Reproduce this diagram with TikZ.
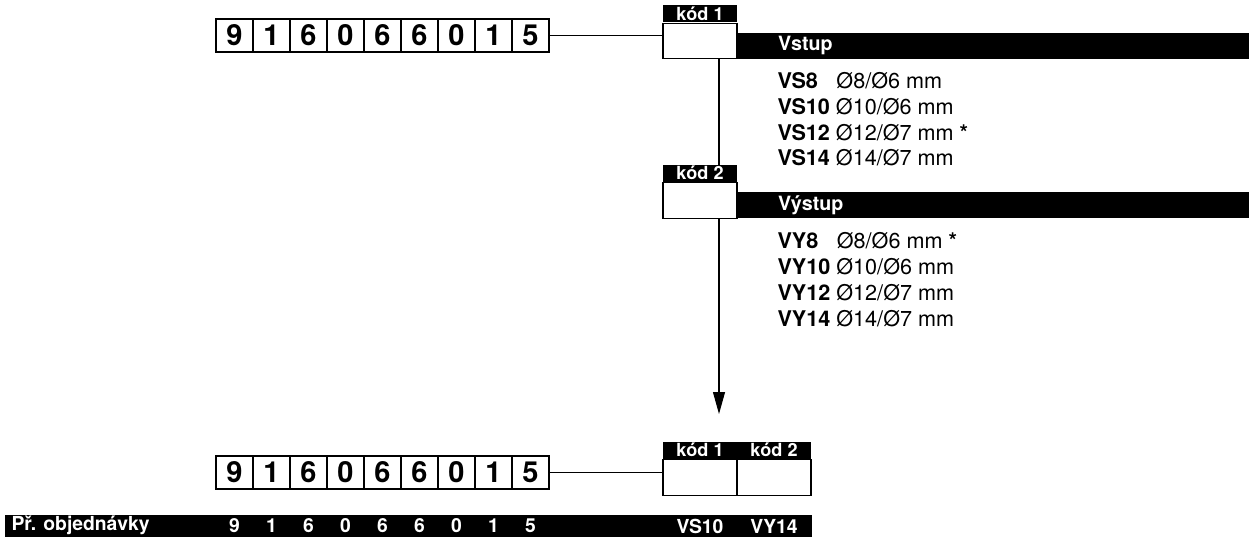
\documentclass[tikz,border=0pt]{standalone}
\usepackage{fontspec}
\setmainfont{TeX Gyre Heros}
\usetikzlibrary{arrows.meta}

\begin{document}
\begin{tikzpicture}[x=0.02cm,y=-0.02cm,line width=0.6pt,
  digit/.style={draw,fill=white,minimum width=0.74cm,minimum height=0.66cm,inner sep=0pt,
    font=\fontsize{16.5}{16.5}\selectfont\bfseries},
  kodbox/.style={draw,fill=white,minimum width=1.48cm,minimum height=0.71cm,inner sep=0pt},
  kodhead/.style={fill=black,text=white,minimum width=1.48cm,minimum height=0.34cm,inner sep=0pt,
    anchor=south,font=\fontsize{10.3}{10.3}\selectfont\bfseries},
  bar/.style={fill=black,text=white,anchor=south west,minimum height=0.52cm,text width=8.62cm,
    inner xsep=0.8cm,inner ysep=0pt,align=left,font=\fontsize{11.2}{11.2}\selectfont\bfseries},
  item/.style={anchor=base west,inner sep=0pt,font=\fontsize{12.3}{12.3}\selectfont},
  barnum/.style={text=white,inner sep=0pt,font=\fontsize{11}{11}\selectfont\bfseries}]
  \useasboundingbox (0,0) rectangle (1254,537);

  % top: order number and code 1
  \foreach \d [count=\i] in {9,1,6,0,6,6,0,1,5}
    \node[digit] (t\i) at ({216+37*(\i-0.5)},35.5) {\d};
  \node[kodbox] (k1) at (700,41) {};
  \node[kodhead] (h1) at (k1.north) {kód 1};
  \node[bar] (vstup) at (k1.south east) {Vstup};
  \draw (t9.east) -- (t9.east -| k1.west);

  \node[item] (vs8) at (777,89) {\textbf{VS8}\hspace*{0.25cm} Ø8/Ø6 mm};
  \node[item] (vs10) at (777,114.5) {\textbf{VS10} Ø10/Ø6 mm};
  \node[item] (vs12) at (777,140) {\textbf{VS12} Ø12/Ø7 mm \textbf{*}};
  \node[item] (vs14) at (777,165.5) {\textbf{VS14} Ø14/Ø7 mm};

  % arrow down, code 2 on top of it
  \coordinate (tip) at (719,414);
  \draw[-{Triangle[length=0.44cm,width=0.24cm]}] (k1.south -| tip) -- (tip);
  \node[kodbox] (k2) at (700,200.5) {};
  \node[kodhead] (h2) at (k2.north) {kód 2};
  \node[bar] (vystup) at (k2.south east) {Výstup};

  \node[item] (vy8) at (777,248) {\textbf{VY8}\hspace*{0.25cm} Ø8/Ø6 mm \textbf{*}};
  \node[item] (vy10) at (777,274) {\textbf{VY10} Ø10/Ø6 mm};
  \node[item] (vy12) at (777,300) {\textbf{VY12} Ø12/Ø7 mm};
  \node[item] (vy14) at (777,326) {\textbf{VY14} Ø14/Ø7 mm};

  % bottom: full order code
  \foreach \d [count=\i] in {9,1,6,0,6,6,0,1,5}
    \node[digit] (b\i) at ({216+37*(\i-0.5)},472.5) {\d};
  \node[kodbox] (k3) at (700,477.5) {};
  \node[kodbox] (k4) at (774,477.5) {};
  \node[kodhead] (h3) at (k3.north) {kód 1};
  \node[kodhead] (h4) at (k4.north) {kód 2};
  \draw (b9.east) -- (b9.east -| k3.west);

  \node[fill=black,anchor=north west,minimum width=16.16cm,minimum height=0.46cm,inner sep=0pt] (order) at (4,514) {};
  \node[barnum,anchor=west] (ordlabel) at (11,525.5) {Př. objednávky};
  \foreach \d [count=\i] in {9,1,6,0,6,6,0,1,5}
    \node[barnum] (n\i) at (b\i |- order) {\d};
  \node[barnum] (c1) at (k3 |- order) {VS10};
  \node[barnum] (c2) at (k4 |- order) {VY14};
\end{tikzpicture}
\end{document}
